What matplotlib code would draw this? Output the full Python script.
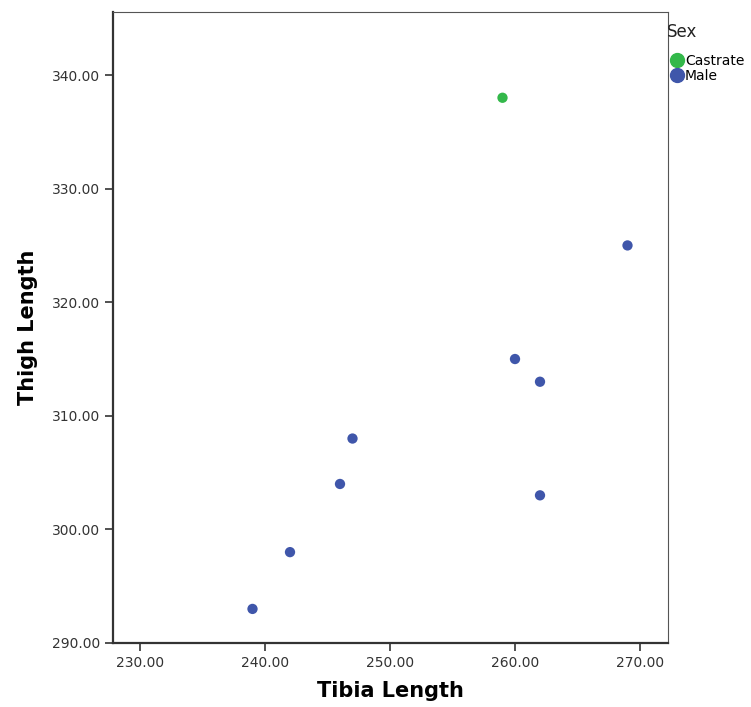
import matplotlib
matplotlib.use("Agg")
import matplotlib.pyplot as plt
from matplotlib.lines import Line2D

tibia_castrate = [259]
thigh_castrate = [338]
tibia_male = [269, 260, 262, 247, 246, 262, 242, 239]
thigh_male = [325, 315, 313, 308, 304, 303, 298, 293]
xticks = [230, 240, 250, 260, 270]
yticks = [290, 300, 310, 320, 330, 340]

green = "#33b84a"
blue = "#3f56aa"

fig = plt.figure(figsize=(7.51, 7.07), dpi=100)
ax = fig.add_axes([113/751, 64/707, 555/751, 631/707])
ax.scatter(tibia_castrate, thigh_castrate, s=55, color=green, edgecolors="none", zorder=3)
ax.scatter(tibia_male, thigh_male, s=55, color=blue, edgecolors="none", zorder=3)

ax.set_xlim(227.84, 272.24)
ax.set_ylim(290, 345.55)
ax.set_xticks(xticks)
ax.set_yticks(yticks)
ax.set_xticklabels([f"{v:.2f}" for v in xticks], fontsize=10, color="#333333")
ax.set_yticklabels([f"{v:.2f}" for v in yticks], fontsize=10, color="#333333")
ax.tick_params(direction="out", length=6, width=1.2, color="#333333")
for s in ["left", "bottom"]:
    ax.spines[s].set_linewidth(1.6)
    ax.spines[s].set_color("#333333")
for s in ["top", "right"]:
    ax.spines[s].set_linewidth(0.8)
    ax.spines[s].set_color("#555555")

ax.set_xlabel("Tibia Length", fontsize=15, fontweight="bold", labelpad=8)
ax.set_ylabel("Thigh Length", fontsize=15, fontweight="bold", labelpad=10)

fig.text(682/751, 1 - 32/707, "Sex", fontsize=12, ha="center", va="center", color="#222222")
handles = [Line2D([], [], marker="o", linestyle="none", markersize=10, color=green, label="Castrate"),
           Line2D([], [], marker="o", linestyle="none", markersize=10, color=blue, label="Male")]
fig.legend(handles=handles, loc="upper left", bbox_to_anchor=(660/751, 1 - 47/707),
           frameon=False, fontsize=10, handletextpad=-0.2, labelspacing=0.05,
           borderpad=0, handlelength=1.5)

fig.savefig("out.png", dpi=100)
